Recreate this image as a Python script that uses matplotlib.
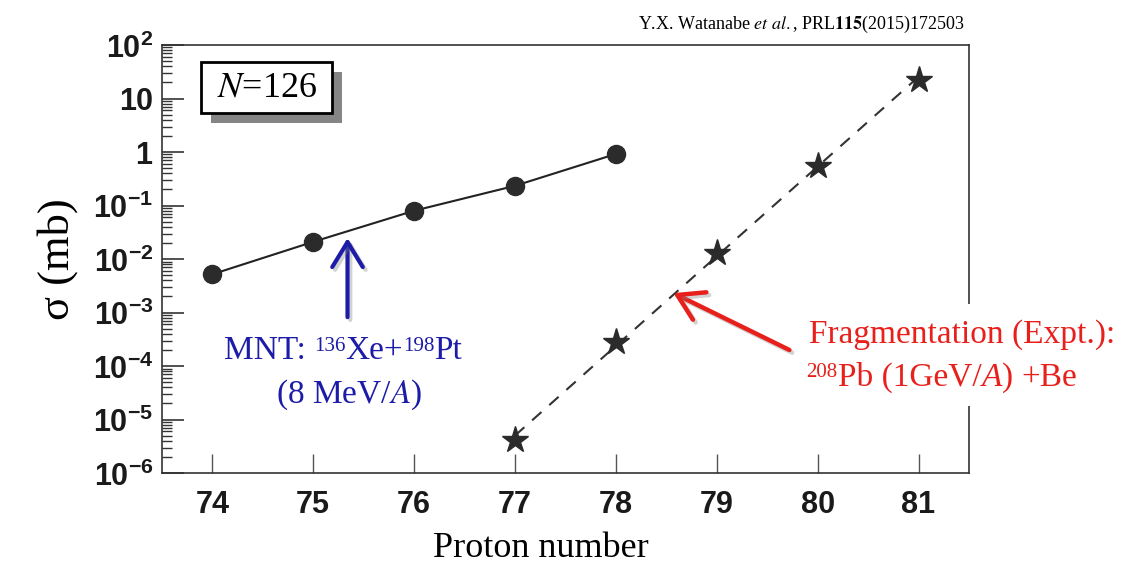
import numpy as np
import matplotlib
matplotlib.use("Agg")
import matplotlib.pyplot as plt
import matplotlib.patheffects as pe
from matplotlib.patches import Rectangle
from matplotlib import font_manager

# MNT (136Xe+198Pt) cross sections, N=126 isotones
proton_mnt = [74, 75, 76, 77, 78]
sigma_mnt = [5.2e-3, 0.021, 0.080, 0.234, 0.92]

# fragmentation data (208Pb + Be)
proton_frag = [77, 78, 79, 80, 81]
sigma_frag = [4.1e-6, 2.85e-4, 0.0128, 0.56, 22.2]

x_ticks = [74, 75, 76, 77, 78, 79, 80, 81]
y_ticks = [1e-6, 1e-5, 1e-4, 1e-3, 1e-2, 1e-1, 1, 10, 100]
y_labels = ['$10^{-6}$', '$10^{-5}$', '$10^{-4}$', '$10^{-3}$', '$10^{-2}$',
            '$10^{-1}$', '$1$', '$10$', '$10^{2}$']

installed = {f.name for f in font_manager.fontManager.ttflist}
SANS = 'Liberation Sans Narrow' if 'Liberation Sans Narrow' in installed else 'Liberation Sans'
SERIF = 'Liberation Serif'

plt.rcParams['mathtext.fontset'] = 'custom'
plt.rcParams['mathtext.rm'] = SANS + ':bold'
plt.rcParams['mathtext.it'] = SANS + ':bold'
plt.rcParams['mathtext.bf'] = SANS + ':bold'


def chain(ax, x, y, pieces, color, size):
    # place text pieces one after another on a common baseline
    prev = None
    for s, scale, rise, style, gap in pieces:
        kw = dict(color=color, fontfamily=SERIF, fontsize=size * scale, style=style,
                  ha='left', va='baseline', textcoords='offset points', zorder=6)
        if prev is None:
            t = ax.annotate(s, xy=(x, y), xycoords='axes fraction', xytext=(gap, rise), **kw)
        else:
            t = ax.annotate(s, xy=(1, y), xycoords=(prev, 'axes fraction'),
                            xytext=(gap, rise), **kw)
        prev = t
    return prev


fig = plt.figure(figsize=(11.4, 5.7), dpi=100)
ax = fig.add_axes([0.142, 0.170, 0.708, 0.751])

ax.set_yscale('log')
ax.set_xlim(73.5, 81.5)
ax.set_ylim(1e-6, 1e2)

ax.plot(proton_mnt, sigma_mnt, '-', color='#222222', lw=1.5, zorder=3)
ax.plot(proton_mnt, sigma_mnt, 'o', color='#2b2b2b', ms=13, zorder=4)

# exponential fit drawn through the fragmentation points
coef = np.polyfit(proton_frag, np.log10(sigma_frag), 1)
fx = np.array([proton_frag[0], proton_frag[-1]])
ax.plot(fx, 10 ** np.polyval(coef, fx), '--', color='#333333', lw=1.5,
        dashes=(6, 5), zorder=3)
ax.plot(proton_frag, sigma_frag, '*', color='#2b2b2b', ms=20, zorder=4)

ax.set_xticks(x_ticks)
ax.set_xticklabels([str(v) for v in x_ticks])
ax.set_yticks(y_ticks)
ax.set_yticklabels(y_labels)
ax.yaxis.set_minor_locator(matplotlib.ticker.LogLocator(base=10, subs=np.arange(2, 10), numticks=20))
ax.yaxis.set_minor_formatter(matplotlib.ticker.NullFormatter())

ax.tick_params(axis='both', which='both', direction='in', top=False, right=False)
ax.tick_params(axis='y', which='major', length=16, width=1.2, color='#333333', pad=6,
               labelsize=22, labelcolor='#1a1a1a')
ax.tick_params(axis='y', which='minor', length=7, width=1.0, color='#333333')
ax.tick_params(axis='x', which='major', length=14, width=1.0, color='#555555', pad=12,
               labelsize=22, labelcolor='#1a1a1a')
for lab in ax.get_xticklabels():
    lab.set_fontfamily(SANS)
    lab.set_fontweight('bold')

for sp in ax.spines.values():
    sp.set_color('#333333')
    sp.set_linewidth(1.2)

ax.set_xlabel('Proton number', fontfamily=SERIF, fontsize=26)
ax.xaxis.set_label_coords(0.47, -0.137, transform=ax.transAxes)
ax.xaxis.label.set_va('top')
ax.set_ylabel('σ (mb)', fontfamily=SERIF, fontsize=32, labelpad=11)

# citation
fig.text(0.846, 0.950, 'Y.X. Watanabe $\\mathit{et\\ al.}$, PRL$\\mathbf{115}$(2015)172503',
         fontfamily=SERIF, math_fontfamily='stix', fontsize=13, ha='right', va='baseline')

# N=126 box with drop shadow
box = Rectangle((0.0483, 0.8411), 0.1622, 0.1192, transform=ax.transAxes,
                fc='white', ec='black', lw=2, zorder=5, clip_on=False)
box.set_path_effects([pe.SimplePatchShadow(offset=(7.5, -7.5), shadow_rgbFace='#858585', alpha=1.0),
                      pe.Normal()])
ax.add_patch(box)
ax.text(0.1300, 0.9007, '$N$=126', color='black', fontfamily=SERIF, math_fontfamily='stix',
        fontsize=26, ha='center', va='center', transform=ax.transAxes, zorder=6)

shadow = [pe.SimpleLineShadow(offset=(2, -2), shadow_color='gray', alpha=0.35), pe.Normal()]

# MNT label and arrow
blue = '#1c1ca8'
ax.annotate('', xy=(75.34, 0.0247), xytext=(75.34, 8.2e-4),
            arrowprops=dict(arrowstyle='->,head_length=1.8,head_width=1.1', color=blue,
                            lw=3, mutation_scale=10, shrinkA=0, shrinkB=0,
                            path_effects=shadow))
chain(ax, 0.0768, 0.2664,
      [('MNT:', 1, 0, 'normal', 0), ('136', 0.63, 6, 'normal', 6), ('Xe+', 1, 0, 'normal', 0),
       ('198', 0.63, 6, 'normal', 0), ('Pt', 1, 0, 'normal', 0)], blue, 24)
ax.text(0.2316, 0.1636, '(8 MeV/$\\mathit{A}$)', color=blue, fontfamily=SERIF,
        math_fontfamily='stix', fontsize=24, ha='center', va='baseline', transform=ax.transAxes)

# fragmentation label and arrow
red = '#e8201c'
ax.annotate('', xy=(78.57, 2.31e-3), xytext=(79.72, 2.0e-4),
            arrowprops=dict(arrowstyle='->,head_length=1.8,head_width=1.1', color=red,
                            lw=3.2, mutation_scale=10, shrinkA=0, shrinkB=0,
                            path_effects=shadow))
# gap in the right spine behind the label
ax.add_patch(Rectangle((0.99, 0.157), 0.02, 0.239, transform=ax.transAxes,
                       fc='white', ec='none', zorder=4, clip_on=False))
chain(ax, 0.8012, 0.3054, [('Fragmentation (Expt.):', 1, 0, 'normal', 0)], red, 24)
chain(ax, 0.7988, 0.2040,
      [('208', 0.63, 6.5, 'normal', 0), ('Pb (1GeV/', 1, 0, 'normal', 0),
       ('A', 1, 0, 'italic', 0), (')', 1, 0, 'normal', 0), ('+Be', 1, 0, 'normal', 6)], red, 24)

fig.savefig('out.png', dpi=100)
